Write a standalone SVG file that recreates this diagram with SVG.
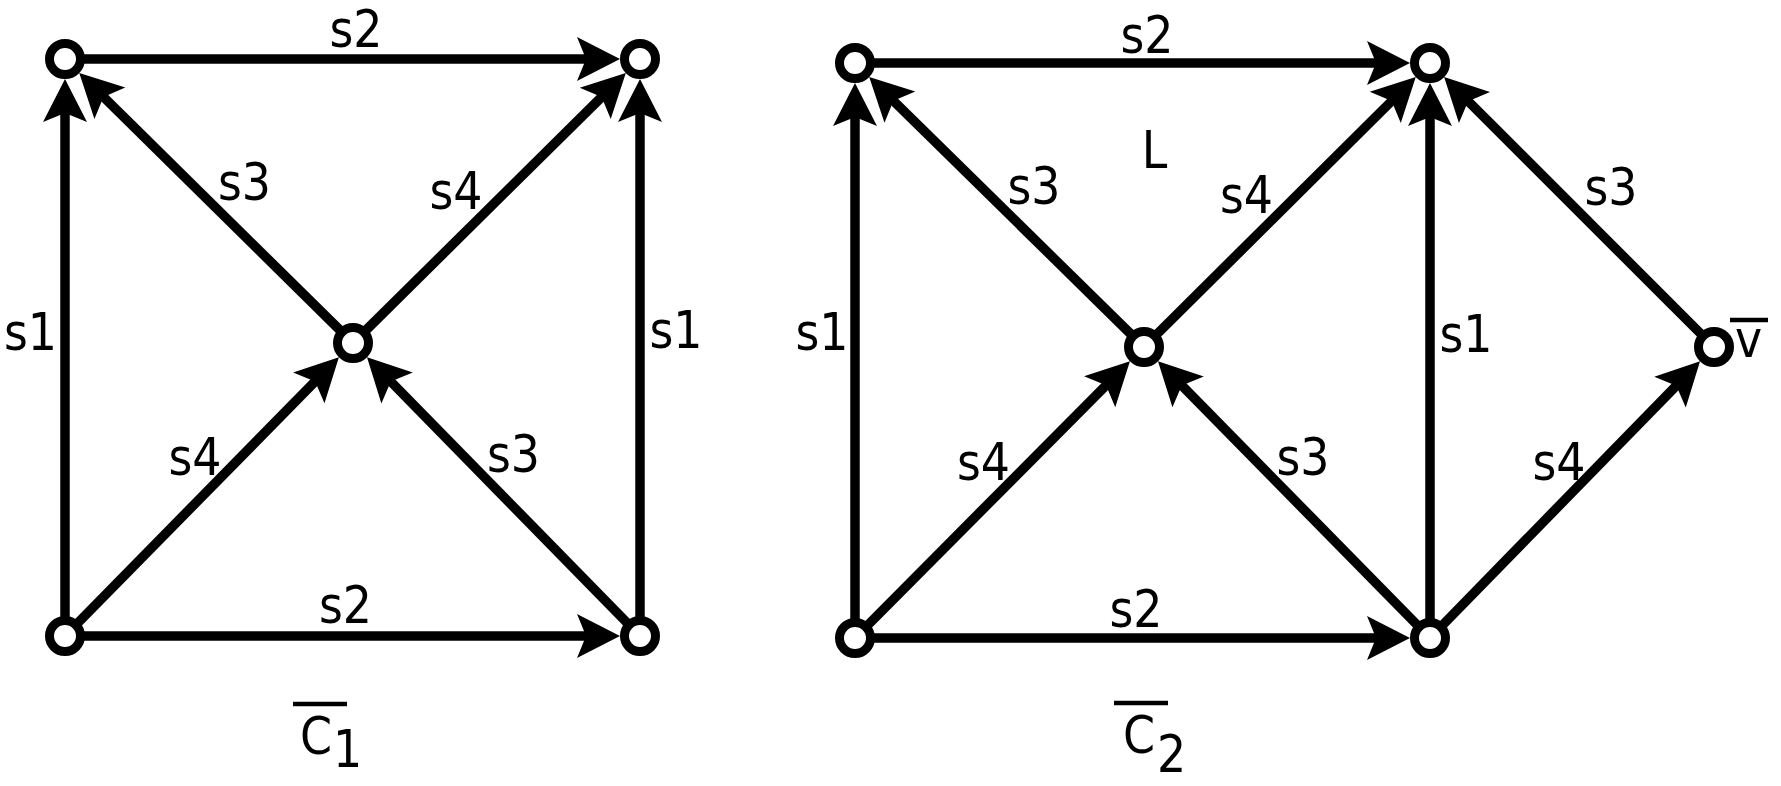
<svg xmlns="http://www.w3.org/2000/svg" width="1781" height="786" viewBox="0 0 1781 786">
<style>
.e{stroke:#000;stroke-width:9.5;fill:none;marker-end:url(#ah)}
.n{fill:#fff;stroke:#000;stroke-width:9}
.t{font-family:"DejaVu Sans Condensed","DejaVu Sans","Liberation Sans",sans-serif;font-stretch:condensed;font-size:51px;fill:#000}
.m{text-anchor:middle}
.bar{stroke:#000;stroke-width:4.5}
</style>
<defs>
<marker id="ah" markerUnits="userSpaceOnUse" orient="auto" refX="0" refY="0" markerWidth="60" markerHeight="60" viewBox="-20 -30 60 60" overflow="visible">
<path d="M29,0 L-14,-22 L-5,0 L-14,22 Z" fill="#000"/>
</marker>
</defs>
<rect width="1781" height="786" fill="#fff"/>
<g id="connectors">
<line class="e" x1="65" y1="59" x2="591" y2="59"/>
<line class="e" x1="65" y1="636" x2="65" y2="108"/>
<line class="e" x1="640" y1="636" x2="640" y2="108"/>
<line class="e" x1="353" y1="343" x2="99.9" y2="93.4"/>
<line class="e" x1="353" y1="343" x2="605.2" y2="93.5"/>
<line class="e" x1="65" y1="636" x2="318.6" y2="377.9"/>
<line class="e" x1="640" y1="636" x2="387.3" y2="378"/>
<line class="e" x1="65" y1="636" x2="591" y2="636"/>
<line class="e" x1="855" y1="63" x2="1381" y2="63"/>
<line class="e" x1="855" y1="638" x2="855" y2="112"/>
<line class="e" x1="1144" y1="347" x2="889.9" y2="97.3"/>
<line class="e" x1="1144" y1="347" x2="1395.2" y2="97.5"/>
<line class="e" x1="1430" y1="638" x2="1430" y2="112"/>
<line class="e" x1="1714" y1="347" x2="1464.6" y2="97.6"/>
<line class="e" x1="855" y1="638" x2="1109.5" y2="381.8"/>
<line class="e" x1="1430" y1="638" x2="1178.3" y2="381.9"/>
<line class="e" x1="855" y1="638" x2="1381" y2="638"/>
<line class="e" x1="1430" y1="638" x2="1679.8" y2="382.1"/>
</g>
<g id="n1tl"><circle class="n" cx="65" cy="59" r="15.5"/></g>
<g id="n1tr"><circle class="n" cx="640" cy="59" r="15.5"/></g>
<g id="n1c"><circle class="n" cx="353" cy="343" r="15.5"/></g>
<g id="n1bl"><circle class="n" cx="65" cy="636" r="15.5"/></g>
<g id="n1br"><circle class="n" cx="640" cy="636" r="15.5"/></g>
<g id="n2tl"><circle class="n" cx="855" cy="63" r="15.5"/></g>
<g id="n2tr"><circle class="n" cx="1430" cy="63" r="15.5"/></g>
<g id="n2c"><circle class="n" cx="1144" cy="347" r="15.5"/></g>
<g id="n2bl"><circle class="n" cx="855" cy="638" r="15.5"/></g>
<g id="n2br"><circle class="n" cx="1430" cy="638" r="15.5"/></g>
<g id="n2v"><circle class="n" cx="1714" cy="347" r="15.5"/>
<text class="t m" x="1748.5" y="357">v</text>
<line class="bar" x1="1730" y1="320" x2="1768" y2="320"/></g>
<g id="labels">
<text class="t m" x="356" y="47">s2</text>
<text class="t m" x="30.5" y="350">s1</text>
<text class="t m" x="244.5" y="200">s3</text>
<text class="t m" x="456" y="209">s4</text>
<text class="t m" x="676" y="348">s1</text>
<text class="t m" x="195" y="475">s4</text>
<text class="t m" x="513.5" y="472">s3</text>
<text class="t m" x="345.5" y="623">s2</text>
<text class="t m" x="1147" y="53">s2</text>
<text class="t m" x="1154.5" y="168">L</text>
<text class="t m" x="1034" y="204">s3</text>
<text class="t m" x="1246.5" y="213">s4</text>
<text class="t m" x="822" y="350">s1</text>
<text class="t m" x="1466" y="352">s1</text>
<text class="t m" x="1611" y="205">s3</text>
<text class="t m" x="983.5" y="480">s4</text>
<text class="t m" x="1303" y="475">s3</text>
<text class="t m" x="1559" y="480">s4</text>
<text class="t m" x="1136" y="627">s2</text>
</g>
<g id="c1">
<line class="bar" x1="293" y1="704" x2="347" y2="704"/>
<text class="t" x="300" y="754">C</text>
<text class="t" x="333" y="767">1</text>
</g>
<g id="c2">
<line class="bar" x1="1114" y1="703" x2="1168" y2="703"/>
<text class="t" x="1123" y="753">C</text>
<text class="t" x="1157" y="772">2</text>
</g>
</svg>
